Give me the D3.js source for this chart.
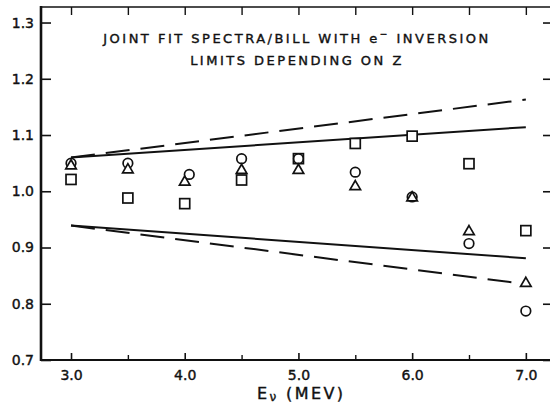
<!DOCTYPE html>
<html>
<head>
<meta charset="utf-8">
<script src="https://cdn.jsdelivr.net/npm/d3@7"></script>
<style>
  body { margin: 0; background: #fff; }
  svg { display: block; }
  text { font-family: "DejaVu Sans", sans-serif; fill: #111; stroke: #111; stroke-width: 0.4px; }
</style>
</head>
<body>
<div id="chart"></div>
<script>
// neutrino energy (MeV) for each point set
var energies = [3.0, 3.5, 4.0, 4.5, 5.0, 5.5, 6.0, 6.5, 7.0];
// circles sit a bit off the grid at 4.0
var circleE = [3.0, 3.5, 4.04, 4.5, 5.0, 5.5, 6.0, 6.5, 7.0];
var circleVals = [1.050, 1.050, 1.030, 1.058, 1.058, 1.034, 0.990, 0.907, 0.787];
var triangleVals = [1.047, 1.040, 1.018, 1.039, 1.039, 1.010, 0.990, 0.930, 0.838];
var squareVals = [1.021, 0.988, 0.978, 1.020, 1.058, 1.085, 1.098, 1.049, 0.930];

// limit curves
var limitE = [3.0, 7.0];
var upperSolid = [1.060, 1.114];
var upperDashed = [1.060, 1.163];
var lowerSolid = [0.939, 0.881];
var lowerDashed = [0.939, 0.835];

var xTicks = [3.0, 4.0, 5.0, 6.0, 7.0];
var xMinorTicks = [3.5, 4.5, 5.5, 6.5];
var yTicks = [0.7, 0.8, 0.9, 1.0, 1.1, 1.2, 1.3];

var width = 550, height = 406;

var x = d3.scaleLinear().domain([2.736, 7.23]).range([41, 552]);
var y = d3.scaleLinear().domain([0.7, 1.3276]).range([360, 7]);

var svg = d3.select("#chart").append("svg")
    .attr("width", width)
    .attr("height", height);

// frame lines
svg.append("line").attr("x1", 41).attr("x2", 552).attr("y1", y(0.7)).attr("y2", y(0.7))
  .style("stroke", "#111").style("stroke-width", 2);
svg.append("line").attr("x1", 41).attr("x2", 552).attr("y1", y(1.3276)).attr("y2", y(1.3276))
  .style("stroke", "#111").style("stroke-width", 1.6);
svg.append("line").attr("x1", 41).attr("x2", 41).attr("y1", y(1.3276) - 1).attr("y2", y(0.7) + 1)
  .style("stroke", "#111").style("stroke-width", 2.6);

// left axis
var yAxis = svg.append("g")
  .attr("transform", "translate(41,0)")
  .call(d3.axisLeft(y).tickValues(yTicks).tickSize(-10).tickSizeOuter(0)
    .tickPadding(7).tickFormat(d3.format(".1f")));
yAxis.select(".domain").remove();
yAxis.selectAll("line").style("stroke", "#111").style("stroke-width", 1.6);
yAxis.selectAll("text").style("font-size", "14px").attr("fill", "#111");

// right axis ticks (frame edge is just off the picture)
var yAxisR = svg.append("g")
  .attr("transform", "translate(552,0)")
  .call(d3.axisRight(y).tickValues(yTicks).tickSize(-9).tickSizeOuter(0).tickFormat(""));
yAxisR.select(".domain").remove();
yAxisR.selectAll("line").style("stroke", "#111").style("stroke-width", 1.6);

// bottom axis
var xAxis = svg.append("g")
  .attr("transform", "translate(0," + y(0.7) + ")")
  .call(d3.axisBottom(x).tickValues(xTicks).tickSize(-7).tickSizeOuter(0)
    .tickPadding(10).tickFormat(d3.format(".1f")));
xAxis.select(".domain").remove();
xAxis.selectAll("line").style("stroke", "#111").style("stroke-width", 1.6);
xAxis.selectAll("text").style("font-size", "14px").attr("fill", "#111");

var xAxisMinor = svg.append("g")
  .attr("transform", "translate(0," + y(0.7) + ")")
  .call(d3.axisBottom(x).tickValues(xMinorTicks).tickSize(-5).tickSizeOuter(0).tickFormat(""));
xAxisMinor.select(".domain").remove();
xAxisMinor.selectAll("line").style("stroke", "#111").style("stroke-width", 1.4);

// top axis ticks
var xAxisTop = svg.append("g")
  .attr("transform", "translate(0," + y(1.3276) + ")")
  .call(d3.axisTop(x).tickValues(xTicks.concat(xMinorTicks)).tickSize(-8).tickSizeOuter(0).tickFormat(""));
xAxisTop.select(".domain").remove();
xAxisTop.selectAll("line").style("stroke", "#111").style("stroke-width", 1.4);

// limit lines
var line = d3.line()
  .x(function(d) { return x(d[0]); })
  .y(function(d) { return y(d[1]); });

function addLimit(vals, dashed) {
  svg.append("path")
    .attr("d", line(limitE.map(function(e, i) { return [e, vals[i]]; })))
    .style("fill", "none")
    .style("stroke", "#111")
    .style("stroke-width", 2)
    .style("stroke-dasharray", dashed ? "24,11" : null);
}
addLimit(upperDashed, true);
addLimit(lowerDashed, true);
addLimit(upperSolid, false);
addLimit(lowerSolid, false);

// squares
svg.selectAll(".sq")
  .data(energies.map(function(e, i) { return [e, squareVals[i]]; }))
  .enter().append("rect")
    .attr("class", "sq")
    .attr("x", function(d) { return x(d[0]) - 5; })
    .attr("y", function(d) { return y(d[1]) - 5; })
    .attr("width", 10)
    .attr("height", 10)
    .style("fill", "#fff")
    .style("stroke", "#111")
    .style("stroke-width", 1.7);

// circles
svg.selectAll(".dot")
  .data(circleE.map(function(e, i) { return [e, circleVals[i]]; }))
  .enter().append("circle")
    .attr("class", "dot")
    .attr("cx", function(d) { return x(d[0]); })
    .attr("cy", function(d) { return y(d[1]); })
    .attr("r", 4.8)
    .style("fill", "#fff")
    .style("stroke", "#111")
    .style("stroke-width", 1.7);

// triangles
var tri = d3.symbol().type(d3.symbolTriangle).size(48);
svg.selectAll(".tri")
  .data(energies.map(function(e, i) { return [e, triangleVals[i]]; }))
  .enter().append("path")
    .attr("class", "tri")
    .attr("d", tri)
    .attr("transform", function(d) { return "translate(" + x(d[0]) + "," + (y(d[1]) + 1) + ")"; })
    .style("fill", "#fff")
    .style("stroke", "#111")
    .style("stroke-width", 1.7);

// title
var title = svg.append("text")
  .attr("x", 297)
  .attr("y", 43)
  .attr("text-anchor", "middle")
  .style("font-size", "13px")
  .style("letter-spacing", "2.5px");
title.append("tspan").text("JOINT FIT SPECTRA/BILL WITH ");
title.append("tspan").text("e");
title.append("tspan").attr("dy", -6).style("font-size", "9px").text("\u2212");
title.append("tspan").attr("dy", 6).text(" INVERSION");

svg.append("text")
  .attr("x", 297)
  .attr("y", 65)
  .attr("text-anchor", "middle")
  .style("font-size", "13px")
  .style("letter-spacing", "2.5px")
  .text("LIMITS DEPENDING ON Z");

// x axis label
var xl = svg.append("text")
  .attr("x", 257)
  .attr("y", 399)
  .style("font-size", "16px")
  .style("letter-spacing", "2.4px");
xl.append("tspan").text("E");
xl.append("tspan").attr("dy", 2).style("font-size", "12px").text("\u03BD");
xl.append("tspan").attr("dy", -2).text(" (MEV)");
</script>
</body>
</html>
